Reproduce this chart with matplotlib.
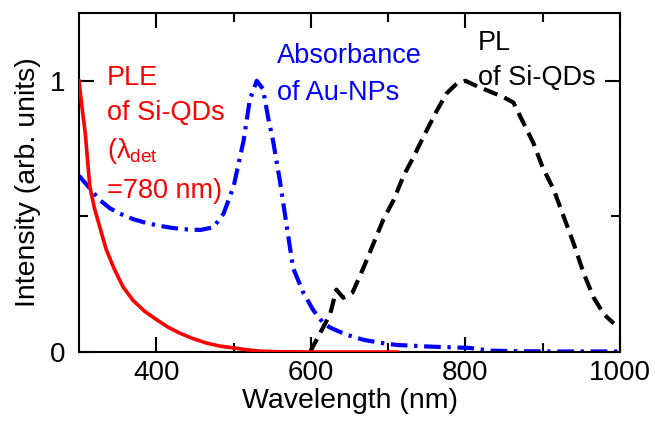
import matplotlib
matplotlib.use("Agg")
import matplotlib.pyplot as plt
import numpy as np

plt.rcParams['font.family'] = ['Liberation Sans', 'DejaVu Sans']
plt.rcParams['mathtext.fontset'] = 'custom'
plt.rcParams['mathtext.rm'] = 'Liberation Sans'
plt.rcParams['mathtext.it'] = 'Liberation Sans:italic'

# PLE of Si-QDs (red, solid)
ple_wl = [300, 304, 308, 314, 320, 327, 335, 345, 357, 370, 385, 400, 415, 430, 447, 465, 482, 500, 518, 535, 560, 600, 650, 712]
ple_int = [1.0, 0.90, 0.81, 0.61, 0.53, 0.46, 0.38, 0.31, 0.24, 0.19, 0.15, 0.12, 0.092, 0.07, 0.05, 0.033, 0.022, 0.015, 0.008, 0.003, 0.001, 0.0, 0.0, 0.0]

# absorbance of Au-NPs (blue, dash-dot)
abs_wl = [300, 315, 327, 340, 353, 370, 388, 405, 422, 440, 457, 474, 487, 500, 513, 521, 530, 538, 545, 551, 560, 569, 577, 590, 603, 616, 625, 645, 668, 690, 711, 754, 806, 832, 870, 920, 1000]
abs_int = [0.65, 0.60, 0.56, 0.53, 0.51, 0.49, 0.475, 0.465, 0.457, 0.452, 0.45, 0.46, 0.51, 0.61, 0.78, 0.93, 1.0, 0.97, 0.86, 0.78, 0.63, 0.46, 0.31, 0.22, 0.155, 0.107, 0.09, 0.065, 0.045, 0.034, 0.026, 0.02, 0.015, 0.005, 0.003, 0.002, 0.002]

# PL of Si-QDs (black, dashed)
pl_wl = [599, 612, 625, 633, 642, 654, 668, 681, 694, 707, 720, 733, 745, 763, 776, 789, 800, 815, 832, 849, 862, 875, 888, 900, 914, 927, 940, 953, 966, 979, 992]
pl_int = [0.0, 0.07, 0.14, 0.23, 0.20, 0.22, 0.31, 0.40, 0.49, 0.56, 0.65, 0.72, 0.79, 0.89, 0.955, 0.99, 1.0, 0.98, 0.96, 0.94, 0.92, 0.845, 0.77, 0.68, 0.60, 0.50, 0.40, 0.29, 0.20, 0.14, 0.105]

fig = plt.figure(figsize=(6.55, 4.23), dpi=100)
ax = fig.add_axes([0.1206, 0.1678, 0.826, 0.8015])

ax.plot(ple_wl, ple_int, color='#ff0000', lw=2.6, zorder=3)
ax.plot(abs_wl, abs_int, color='#0000ff', lw=3, dashes=(4, 1.6, 0.8, 1.6), zorder=2)
ax.plot(pl_wl, pl_int, color='black', lw=3, dashes=(3.5, 1.8), zorder=2)

ax.set_xlim(300, 1000)
ax.set_ylim(0, 1.25)
ax.set_xticks([400, 600, 800, 1000])
ax.set_xticks([500, 700, 900], minor=True)
ax.set_yticks([0, 1])
ax.set_yticks([0.5], minor=True)
ax.tick_params(which='both', direction='in', top=True, right=True, width=1.5, labelsize=20)
ax.tick_params(which='major', length=11)
ax.tick_params(which='minor', length=6.5)
ax.tick_params(axis='x', which='major', pad=6)
ax.tick_params(axis='y', which='major', pad=10)
for s in ax.spines.values():
    s.set_linewidth(1.5)

ax.set_xlabel('Wavelength (nm)', fontsize=20.5, labelpad=1)
ax.set_ylabel('Intensity (arb. units)', fontsize=20.5, labelpad=6)

fs = 19.5
ax.text(336, 0.985, 'PLE', color='#ff0000', fontsize=fs)
ax.text(336, 0.856, 'of Si-QDs', color='#ff0000', fontsize=fs)
ax.text(336, 0.716, r'(λ$_{\mathrm{det}}$', color='#ff0000', fontsize=fs)
ax.text(336, 0.568, '=780 nm)', color='#ff0000', fontsize=fs)

ax.text(556, 1.066, 'Absorbance', color='#0000ff', fontsize=fs)
ax.text(556, 0.93, 'of Au-NPs', color='#0000ff', fontsize=fs)

ax.text(816, 1.114, 'PL', color='black', fontsize=fs)
ax.text(816, 0.985, 'of Si-QDs', color='black', fontsize=fs)

fig.savefig('out.png', dpi=100)
